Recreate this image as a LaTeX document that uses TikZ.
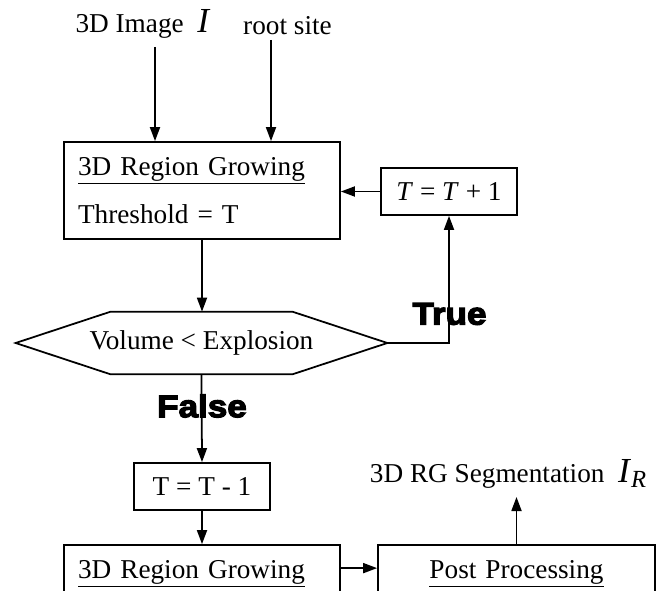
\documentclass[tikz,border=0pt]{standalone}
\usepackage{fontspec}
\setmainfont{Liberation Serif}
\newfontfamily\flagfont[FakeBold=4,FakeStretch=1.12]{Liberation Sans}
\usetikzlibrary{arrows.meta}

\begin{document}
\begin{tikzpicture}[font=\fontsize{15.5}{27.3}\selectfont,
  blk/.style={draw, line width=1pt, inner sep=0pt},
  wide/.style={blk, minimum width=5.52cm, minimum height=1.94cm, text width=4.96cm},
  small/.style={blk, minimum width=2.72cm, minimum height=0.94cm},
  flow/.style={line width=1pt, -{Triangle[length=0.28cm,width=0.2cm]}},
  flag/.style={font=\flagfont\bfseries\fontsize{17.8}{20}\selectfont}]

\useasboundingbox (0,0) rectangle (13.14,11.8);
\clip (0,0) rectangle (13.14,11.8);

% Inputs
\node[anchor=base] (img) at (2.86,11.14) {3D Image\ \ {\fontsize{20}{20}\selectfont\textit{I}}};
\node[anchor=base] (root) at (5.75,11.1) {root site};
\coordinate (imgin) at (3.1,10.86);
\coordinate (rootin) at (5.42,11.0);

% Growing with threshold T
\node[wide, align=left] (grow) at (4.04,7.99) {\underline{3D Region Growing}\\Threshold = T};
\node[small] (inc) at (8.98,7.97) {\textit{T} = \textit{T} + 1};

% Explosion test
\node[minimum width=7.42cm, minimum height=1.24cm, inner sep=0pt] (cond) at (4.03,4.94) {Volume < Explosion};
\draw[line width=1pt] ([xshift=1.9cm]cond.north west) -- ([xshift=-1.9cm]cond.north east)
  -- (cond.east) -- ([xshift=-1.9cm]cond.south east) -- ([xshift=1.9cm]cond.south west)
  -- (cond.west) -- cycle;
\node[flag] (yes) at (8.99,5.52) {True};
\node[flag] (no) at (4.04,3.68) {False};

% Step back and final growing
\node[small] (dec) at (4.04,2.07) {T = T - 1};
\node[wide, align=left] (grow2) at (4.04,-0.07) {\underline{3D Region Growing}\\\phantom{Threshold = T}};
\node[wide, minimum width=5.54cm, align=center] (post) at (10.33,-0.07) {\underline{Post Processing}\\\phantom{Threshold = T}};
\node (seg) at (10.17,2.33) {3D RG Segmentation\ \ {\fontsize{20}{20}\selectfont\textit{I}\textsubscript{\textit{R}}}};
\coordinate (segout) at (10.34,1.86);

% Connectors
\draw[flow] (imgin) -- (imgin |- grow.north);
\draw[flow] (rootin) -- (rootin |- grow.north);
\draw[flow] (inc.west) -- (inc.west -| grow.east);
\draw[flow] (grow.south) -- (grow.south |- cond.north);
\draw[flow] (cond.east) -| (inc.south);
\draw[flow] (cond.south) -- (dec.north);
\draw[flow] (dec) -- (grow2);
\draw[flow] ([yshift=-0.48cm]grow2.north east) -- ([yshift=-0.48cm]post.north west);
\draw[flow] (post.north) -- (post.north |- segout);

\end{tikzpicture}
\end{document}
